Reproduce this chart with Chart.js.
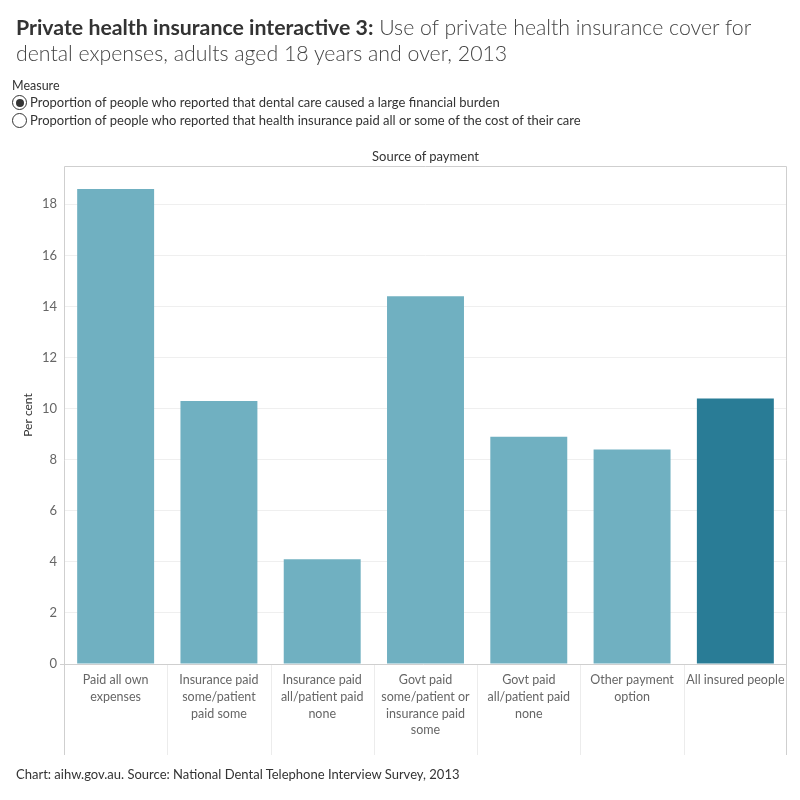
<!DOCTYPE html>
<html>
<head>
<meta charset="utf-8">
<script src="https://cdn.jsdelivr.net/npm/chart.js@4"></script>
<style>
  html, body { margin: 0; padding: 0; background: #fff; }
  body { width: 800px; height: 800px; position: relative; overflow: hidden; font-family: Lato, "Open Sans", sans-serif; }
  #wrap { position: absolute; left: 0; top: 0; width: 800px; height: 800px; }
  .title { position: absolute; left: 16px; top: 14px; width: 770px; font-size: 21.3px; line-height: 26px; color: #444; font-weight: 300; }
  .title b { color: #333; font-weight: 700; }
  .measure { position: absolute; left: 12px; top: 78px; font-size: 12.5px; color: #333; }
  .radio { position: absolute; left: 12px; font-size: 13px; color: #333; white-space: nowrap; }
  .radio .c { display: inline-block; width: 15px; height: 15px; border: 1px solid #333; border-radius: 50%; vertical-align: -3px; margin-right: 3px; box-sizing: border-box; position: relative; }
  .radio .c.on::after { content: ""; position: absolute; left: 2.5px; top: 2.5px; width: 8px; height: 8px; border-radius: 50%; background: #333; }
  .header { position: absolute; left: 64px; width: 723px; top: 148px; text-align: center; font-size: 13px; color: #333; }
  .foot { position: absolute; left: 16px; top: 766px; font-size: 13px; color: #333; }
</style>
</head>
<body>
<div id="wrap"><canvas id="c" width="800" height="800"></canvas></div>
<div class="title"><b>Private health insurance interactive 3:</b> Use of private health insurance cover for dental expenses, adults aged 18 years and over, 2013</div>
<div class="measure">Measure</div>
<div class="radio" style="top:94px"><span class="c on"></span>Proportion of people who reported that dental care caused a large financial burden</div>
<div class="radio" style="top:112px"><span class="c"></span>Proportion of people who reported that health insurance paid all or some of the cost of their care</div>
<div class="header">Source of payment</div>
<div class="foot">Chart: aihw.gov.au. Source: National Dental Telephone Interview Survey, 2013</div>
<script>
const categories = [
  ["Paid all own", "expenses"],
  ["Insurance paid", "some/patient", "paid some"],
  ["Insurance paid", "all/patient paid", "none"],
  ["Govt paid", "some/patient or", "insurance paid", "some"],
  ["Govt paid", "all/patient paid", "none"],
  ["Other payment", "option"],
  "All insured people"
];
const values = [18.6, 10.3, 4.1, 14.4, 8.9, 8.4, 10.4];
const barColors = ["#70B0C1", "#70B0C1", "#70B0C1", "#70B0C1", "#70B0C1", "#70B0C1", "#297C96"];
const yTicks = [0, 2, 4, 6, 8, 10, 12, 14, 16, 18];

const frame = {
  id: "frame",
  beforeDatasetsDraw(chart) {
    const { ctx, chartArea: a } = chart;
    const bottom = 755;
    ctx.save();
    ctx.strokeStyle = "#ececec";
    ctx.lineWidth = 1;
    const n = categories.length;
    const w = (a.right - a.left) / n;
    for (let i = 1; i < n; i++) {
      const x = Math.round(a.left + w * i) + 0.5;
      ctx.beginPath(); ctx.moveTo(x, a.bottom); ctx.lineTo(x, bottom); ctx.stroke();
    }
    ctx.strokeStyle = "#cfcfcf";
    ctx.beginPath();
    ctx.moveTo(a.left + 0.5, bottom); ctx.lineTo(a.left + 0.5, a.top + 0.5);
    ctx.lineTo(a.right - 0.5, a.top + 0.5); ctx.lineTo(a.right - 0.5, bottom);
    ctx.stroke();
    ctx.restore();
  },
  afterDatasetsDraw(chart) {
    const { ctx, chartArea: a } = chart;
    ctx.save();
    ctx.strokeStyle = "#cfcfcf";
    ctx.beginPath();
    ctx.moveTo(a.left - 4, Math.round(a.bottom) + 0.5);
    ctx.lineTo(a.right, Math.round(a.bottom) + 0.5);
    ctx.stroke();
    ctx.restore();
  }
};

new Chart(document.getElementById("c"), {
  type: "bar",
  data: {
    labels: categories,
    datasets: [{ data: values, backgroundColor: barColors, categoryPercentage: 1, barPercentage: 0.745 }]
  },
  options: {
    responsive: false,
    animation: false,
    layout: { padding: { left: 0, right: 13, top: 166, bottom: 45 } },
    plugins: { legend: { display: false }, tooltip: { enabled: false } },
    scales: {
      x: {
        grid: { display: false },
        border: { display: false },
        ticks: { color: "#666", font: { family: "Lato", size: 12.5, lineHeight: 1.33 }, padding: 0, maxRotation: 0, autoSkip: false },
        afterFit(s) { s.height = 91; }
      },
      y: {
        min: 0, max: 19.5,
        afterBuildTicks(s) { s.ticks = yTicks.map(v => ({ value: v })); },
        grid: { color: "#efefef", drawTicks: false },
        border: { display: false },
        ticks: { color: "#666", font: { family: "Lato", size: 13 }, padding: 7 },
        title: { display: true, text: "Per cent", color: "#333", font: { family: "Lato", size: 12 }, padding: { top: 21, bottom: 0 } },
        afterFit(s) { s.width = 64; }
      }
    }
  },
  plugins: [frame]
});
</script>
</body>
</html>
